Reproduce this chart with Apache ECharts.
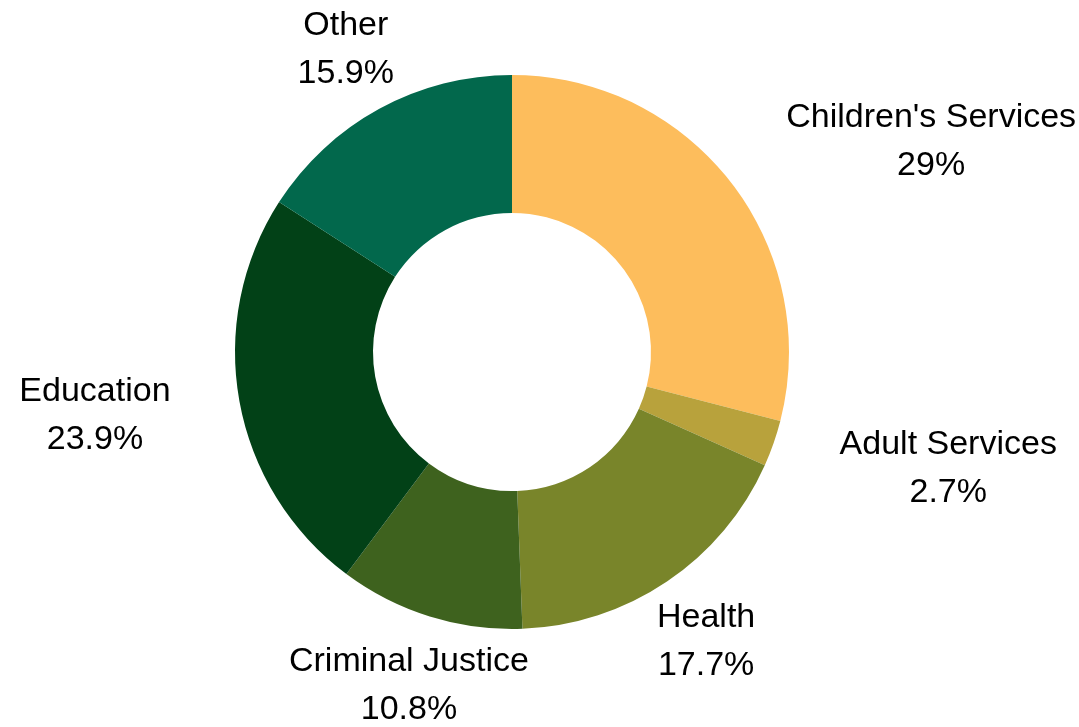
<!DOCTYPE html>
<html><head><meta charset="utf-8">
<script src="https://cdn.jsdelivr.net/npm/echarts@6/dist/echarts.min.js"></script>
<style>html,body{margin:0;padding:0;background:#fff}#c{width:1079px;height:727px}</style>
</head><body><div id="c"></div>
<script>
const categories = ["Children's Services", "Adult Services", "Health", "Criminal Justice", "Education", "Other"];
const shares = [29, 2.7, 17.7, 10.8, 23.9, 15.9];
const colors = ['#FDBD5C', '#B8A23C', '#79852A', '#3E621E', '#024117', '#02684C'];

const CX = 512, CY = 352, R_IN = 139, R_OUT = 277, LABEL_GAP = 70;
const total = shares.reduce((a, b) => a + b, 0);
const midAngles = [];
let acc = 0;
shares.forEach(v => { midAngles.push((acc + v / 2) / total * 360); acc += v; });

const chart = echarts.init(document.getElementById('c'), null, {renderer: 'canvas'});
chart.setOption({
  animation: false,
  backgroundColor: '#ffffff',
  series: [{
    type: 'pie',
    center: [CX, CY],
    radius: [R_IN, R_OUT],
    startAngle: 90,
    clockwise: true,
    percentPrecision: 1,
    avoidLabelOverlap: false,
    data: categories.map((n, i) => ({name: n, value: shares[i], itemStyle: {color: colors[i]}})),
    label: {
      show: true,
      position: 'outside',
      fontFamily: 'Liberation Sans',
      fontSize: 34,
      color: '#000',
      formatter: '{t|{b}}\n{t|{d}%}',
      rich: {t: {align: 'center', fontSize: 34, lineHeight: 48, fontFamily: 'Liberation Sans', color: '#000'}}
    },
    labelLine: {show: false},
    labelLayout: function (p) {
      const deg = midAngles[p.dataIndex];
      const a = deg * Math.PI / 180;
      const L = R_OUT + LABEL_GAP;
      const x = CX + L * Math.sin(a), y = CY - L * Math.cos(a) + 2;
      let align = 'center';
      if (deg > 45 && deg < 135) align = 'left';
      else if (deg > 225 && deg < 315) align = 'right';
      return {x: x, y: y, align: align, verticalAlign: 'middle'};
    }
  }]
});
</script>
</body></html>
